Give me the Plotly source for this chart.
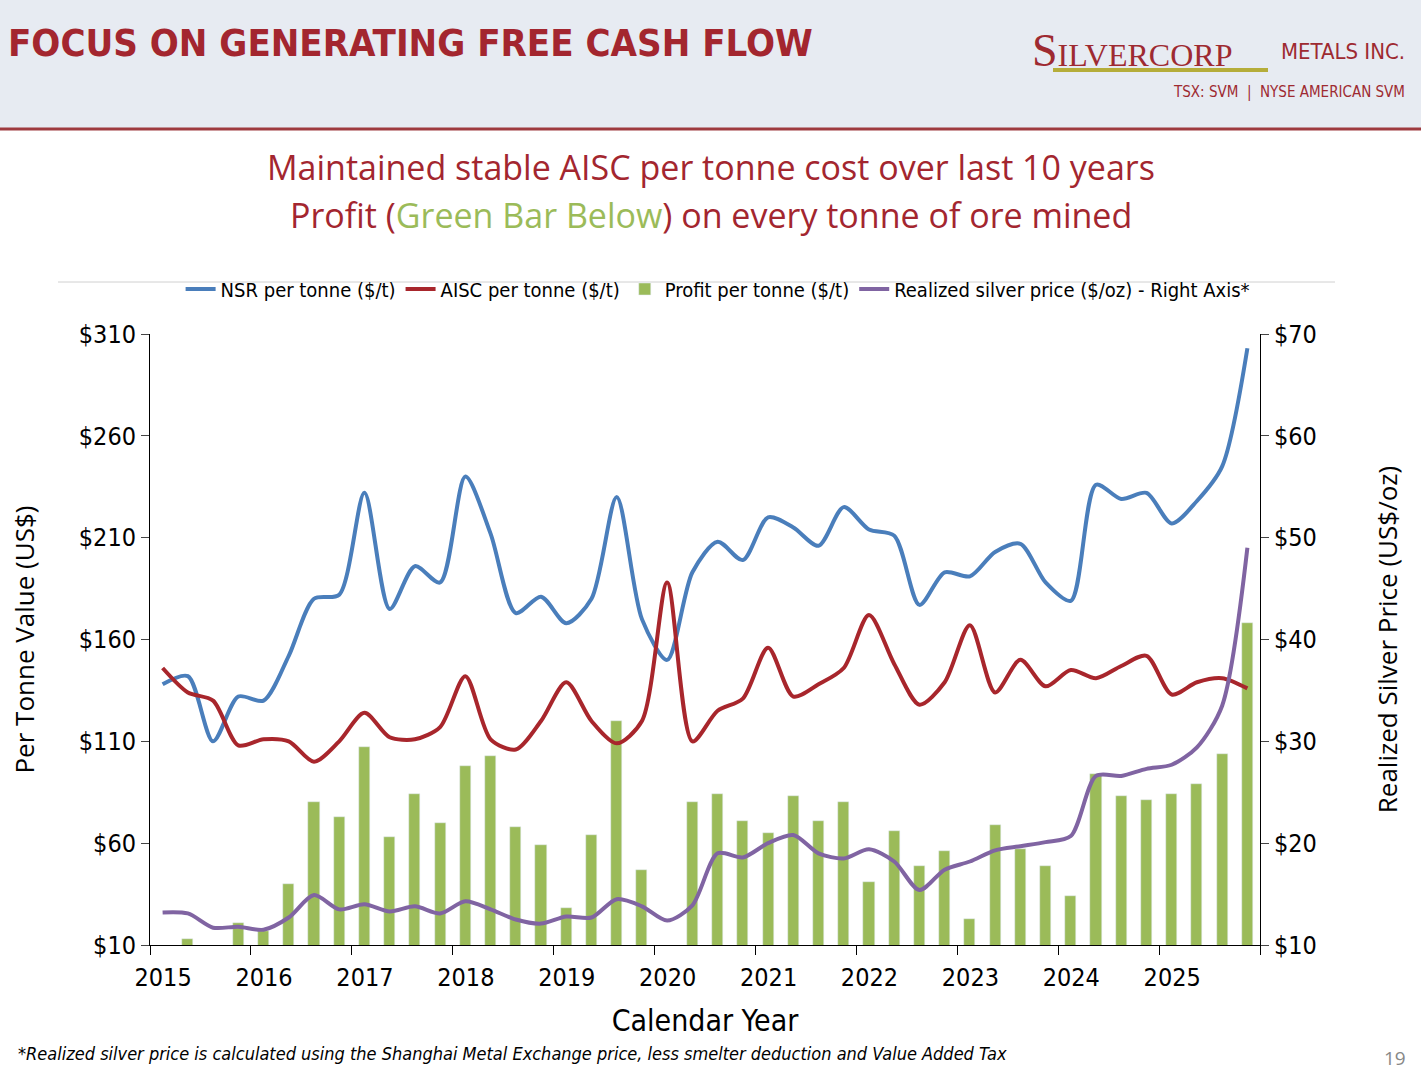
import plotly.graph_objects as go

quarters = [2015.125 + 0.25 * k for k in range(44)]
nsr = [138, 142, 110, 132, 130, 152, 180, 182, 232, 175, 196, 188, 240, 212, 173, 181, 168, 180, 230, 170,
       150, 193, 208, 199, 220, 215, 206, 225, 214, 211, 177, 193, 191, 203, 207, 188, 179, 236, 229, 232,
       217, 228, 245, 303]
aisc = [146, 134, 130, 108, 111, 110, 100, 110, 124, 112, 111, 117, 142, 111, 106, 120, 139, 120, 109, 120,
        188, 110, 125, 131, 156, 132, 138, 146, 172, 148, 128, 139, 167, 134, 150, 137, 145, 141, 147, 152,
        133, 139, 141, 136]
profit = [None, 13, None, 21, 17, 40, 80, 73, 107, 63, 84, 70, 98, 103, 68, 59, 28, 64, 120, 47,
          None, 80, 84, 71, 65, 83, 71, 80, 41, 66, 49, 56, 23, 69, 57, 49, 34, 94, 83, 81,
          84, 89, 104, 168]
silver = [13.2, 13.1, 11.7, 11.8, 11.5, 12.7, 14.9, 13.5, 14.0, 13.3, 13.8, 13.1, 14.3, 13.5, 12.5, 12.1,
          12.8, 12.7, 14.5, 13.8, 12.4, 13.9, 19.0, 18.6, 20.0, 20.8, 19.0, 18.5, 19.4, 18.2, 15.4, 17.4,
          18.2, 19.3, 19.7, 20.1, 20.7, 26.6, 26.6, 27.3, 27.7, 29.4, 33.5, 49.0]
years = list(range(2015, 2026))
left_ticks = [10, 60, 110, 160, 210, 260, 310]
right_ticks = [10, 20, 30, 40, 50, 60, 70]

NARROW = "DejaVu Sans Condensed, Liberation Sans Narrow, Arial Narrow, sans-serif"
RED = "#a3262f"

fig = go.Figure()
fig.add_trace(go.Scatter(x=quarters, y=nsr, name="NSR per tonne ($/t)", mode="lines",
                         line=dict(color="#4a7ebb", width=4, shape="spline", smoothing=0.8)))
fig.add_trace(go.Scatter(x=quarters, y=aisc, name="AISC per tonne ($/t)", mode="lines",
                         line=dict(color="#a8262c", width=4, shape="spline", smoothing=0.8)))
fig.add_trace(go.Bar(x=quarters, y=profit, name="Profit per tonne ($/t)", marker_color="#9bbb59",
                     width=0.11))
fig.add_trace(go.Scatter(x=quarters, y=silver, name="Realized silver price ($/oz) - Right Axis*", mode="lines",
                         yaxis="y2", line=dict(color="#8064a2", width=4, shape="spline", smoothing=0.8)))

fig.update_layout(
    width=1421, height=1071, margin=dict(l=0, r=0, t=0, b=0, autoexpand=False),
    paper_bgcolor="white", plot_bgcolor="white", showlegend=True,
    legend=dict(orientation="h", x=0.505, xanchor="center", y=1-289/1071, yanchor="middle",
                bgcolor="rgba(0,0,0,0)",
                font=dict(family=NARROW, size=20, color="black"), itemwidth=30, traceorder="normal"),
    xaxis=dict(domain=[150/1421, 1260/1421], range=[2015, 2026], tickvals=[y + 0.13 for y in years],
               ticktext=[str(y) for y in years], ticks="", showgrid=False, showline=True,
               linecolor="black", linewidth=1, tickfont=dict(family=NARROW, size=25, color="black"),
               ticklabelstandoff=10,
               minor=dict(dtick=1, tick0=2015, ticks="outside", ticklen=9, tickcolor="black", showgrid=False),
               title=dict(text="Calendar Year", font=dict(family=NARROW, size=30, color="black"), standoff=18),
               zeroline=False),
    yaxis=dict(domain=[1-945/1071, 1-334/1071], range=[10, 310], tickvals=left_ticks,
               ticktext=[f"${v}" for v in left_ticks], showgrid=False, showline=True, linecolor="black",
               ticks="outside", ticklen=8, tickfont=dict(family=NARROW, size=25, color="black"),
               title=dict(text="Per Tonne Value (US$)", font=dict(family="Open Sans", size=26, color="black"),
                          standoff=36), zeroline=False),
    yaxis2=dict(overlaying="y", side="right", range=[10, 70], tickvals=right_ticks,
                ticktext=[f"${v}" for v in right_ticks], showgrid=False, showline=True, linecolor="black",
                ticks="outside", ticklen=8, tickfont=dict(family=NARROW, size=25, color="black"),
                title=dict(text="Realized Silver Price (US$/oz)", font=dict(family="Open Sans", size=26, color="black"),
                           standoff=62), zeroline=False),
    bargap=0,
)

shapes = [
    dict(type="rect", xref="paper", yref="paper", x0=0, x1=1, y0=1-128/1071, y1=1,
         fillcolor="#e7ebf2", line_width=0, layer="below"),
    dict(type="line", xref="paper", yref="paper", x0=0, x1=1, y0=1-129/1071, y1=1-129/1071,
         line=dict(color="#9e3a3f", width=3)),
    dict(type="line", xref="paper", yref="paper", x0=58/1421, x1=1335/1421, y0=1-282/1071, y1=1-282/1071,
         line=dict(color="#d0d0d0", width=1), layer="below"),
    dict(type="line", xref="paper", yref="paper", x0=1053/1421, x1=1268/1421, y0=1-70/1071, y1=1-70/1071,
         line=dict(color="#b5ad3a", width=4)),
]
fig.update_layout(shapes=shapes)

ann = [
    dict(text="<b>FOCUS ON GENERATING FREE CASH FLOW</b>", x=6/1421, y=1-43/1071, xanchor="left", yanchor="middle",
         font=dict(family=NARROW, size=38, color=RED)),
    dict(text="S<span style='font-size:32px'>ILVERCORP</span>", x=1030/1421, y=1-50/1071, xanchor="left",
         yanchor="middle", font=dict(family="Liberation Serif", size=46, color="#9e2a31")),
    dict(text="METALS INC.", x=1407/1421, y=1-51/1071, xanchor="right", yanchor="middle",
         font=dict(family=NARROW, size=22, color="#9e2a31")),
    dict(text="TSX: SVM  |  NYSE AMERICAN SVM", x=1407/1421, y=1-92/1071, xanchor="right", yanchor="middle",
         font=dict(family=NARROW, size=15, color="#9e2a31")),
    dict(text="Maintained stable AISC per tonne cost over last 10 years", x=0.5, y=1-167/1071,
         xanchor="center", yanchor="middle", font=dict(family="Open Sans", size=34, color=RED)),
    dict(text="Profit (<span style='color:#9bbb59'>Green Bar Below</span>) on every tonne of ore mined", x=0.5,
         y=1-215/1071, xanchor="center", yanchor="middle", font=dict(family="Open Sans", size=34, color=RED)),
    dict(text="<i>*Realized silver price is calculated using the Shanghai Metal Exchange price, less smelter deduction and Value Added Tax</i>",
         x=16/1421, y=1-1053/1071, xanchor="left", yanchor="middle",
         font=dict(family=NARROW, size=18, color="black")),
    dict(text="19", x=1408/1421, y=1-1058/1071, xanchor="right", yanchor="middle",
         font=dict(family="Open Sans", size=19, color="#888888")),
]
for a in ann:
    a.update(xref="paper", yref="paper", showarrow=False)
fig.update_layout(annotations=ann)

fig.write_html("out.html", config={"displayModeBar": False},
               post_script="document.body.style.margin='0';document.body.style.overflow='hidden';")
